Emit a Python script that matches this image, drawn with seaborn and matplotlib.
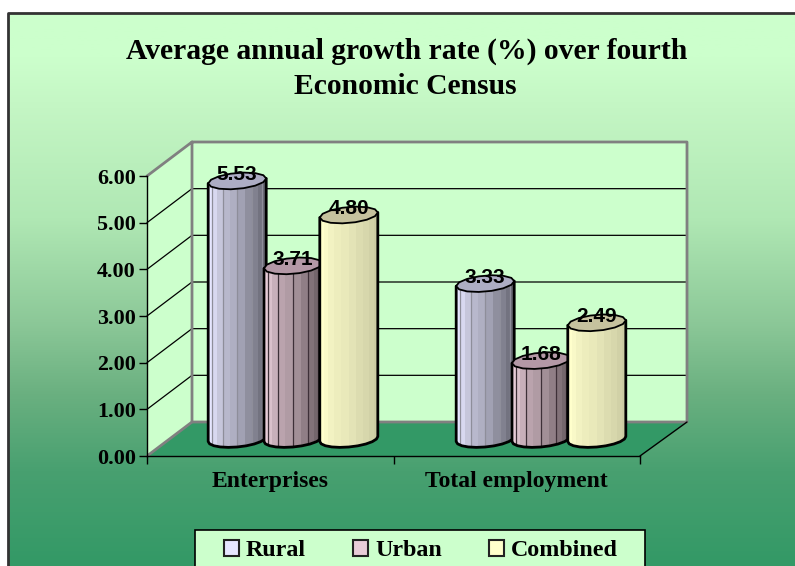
import numpy as np
import pandas as pd
import matplotlib
matplotlib.use("Agg")
import matplotlib.pyplot as plt
from matplotlib.colors import LinearSegmentedColormap, to_rgb
from matplotlib.patches import Patch, Polygon, Rectangle
import seaborn as sns

# values
categories = ["Enterprises", "Total employment"]
series_names = ["Rural", "Urban", "Combined"]
rural = [5.53, 3.33]
urban = [3.71, 1.68]
combined = [4.80, 2.49]
y_ticks = [0, 1, 2, 3, 4, 5, 6]

base_colors = {"Rural": "#E6E6FF", "Urban": "#E8CCD8", "Combined": "#FFFFCC"}
top_colors = {"Rural": "#ADADC4", "Urban": "#B498A6", "Combined": "#C6C29E"}
stripe_lines = {"Rural": "#8E8E9A", "Urban": "#3E3038", "Combined": None}
# light falloff across the cylinder facets, left to right
shades = [0.72, 1.0, 0.94, 0.86, 0.80, 0.76, 0.70, 0.62, 0.56, 0.50, 0.44, 0.40]
shade_keep = {"Rural": 1.0, "Urban": 1.0, "Combined": 0.36}

W, H = 795, 566
# chart box in image pixels
FX0, FX1, FY0, FY6 = 147, 640, 456, 176   # front plane
DX, DY = 45, 34                           # depth of the box
BAR_DX, BAR_DY = 22, 17                   # bars stand half way back
BAR_STRETCH = 3
PX_PER_UNIT = (FY0 - FY6) / 6


def px_box(x0, y0, x1, y1):
    return [x0 / W, 1 - y1 / H, (x1 - x0) / W, (y1 - y0) / H]


df = pd.DataFrame({
    "Category": categories * 3,
    "Series": [s for s in series_names for _ in categories],
    "Rate": rural + urban + combined,
})

sns.set_theme(style="ticks")
plt.rcParams["font.family"] = ["Liberation Serif", "DejaVu Serif"]
plt.rcParams["font.weight"] = "bold"
plt.rcParams["text.color"] = "black"
plt.rcParams["xtick.labelcolor"] = "black"
plt.rcParams["ytick.labelcolor"] = "black"

fig = plt.figure(figsize=(W / 100, H / 100), dpi=100, facecolor="white")

# --- background, walls and floor, in image pixels
bg = fig.add_axes([0, 0, 1, 1], zorder=0)
bg.set_xlim(0, W)
bg.set_ylim(H, 0)
bg.axis("off")
fade = LinearSegmentedColormap.from_list("fade", [
    (0, "#CCFFCC"), (0.08, "#CCFFCC"), (0.17, "#C4F6C4"), (0.37, "#B0E8B4"),
    (0.56, "#8CC898"), (0.69, "#6AB080"), (0.83, "#48A070"), (1, "#339966")])
bg.imshow(np.linspace(0, 1, 256)[:, None], cmap=fade, aspect="auto",
          extent=(8, W, H, 13), zorder=0)
bg.plot([8, 8, W], [H, 13, 13], color="#333333", lw=2, zorder=1)

bx0, bx1 = FX0 + DX, FX1 + DX + 2
by0, by6 = FY0 - DY, FY6 - DY
bg.add_patch(Polygon([(FX0, FY0), (bx0, by0), (bx0, by6), (FX0, FY6)], fc="#CCFFCC", ec="none", zorder=1))
bg.add_patch(Polygon([(bx0, by0), (bx1, by0), (bx1, by6), (bx0, by6)], fc="#CCFFCC", ec="none", zorder=1))
bg.add_patch(Polygon([(FX0, FY0), (bx0, by0), (bx1, by0), (FX1, FY0)], fc="#339966", ec="none", zorder=1))
for v in y_ticks[1:-1]:
    yy = FY0 - v * PX_PER_UNIT
    bg.plot([FX0, bx0, bx1], [yy, yy - DY, yy - DY], color="black", lw=0.9, zorder=2)
bg.plot([FX0, bx0, bx1, bx1, bx0, bx0], [FY6, by6, by6, by0, by0, by6], color="#808080", lw=2, zorder=3)
bg.plot([FX0, bx0], [FY0, by0], color="#808080", lw=2, zorder=3)
bg.plot([FX1, bx1], [FY0, by0], color="black", lw=1, zorder=3)

# --- front plane only carries the axes
front = fig.add_axes(px_box(FX0, FY6, FX1, FY0), zorder=1)
front.patch.set_alpha(0)
front.set_xlim(-0.5, 1.5)
front.set_ylim(0, 6)
front.set_yticks(y_ticks)
front.set_yticklabels([f"{v:.2f}" for v in y_ticks], fontsize=15.8)
front.set_xticks([0, 1])
front.set_xticklabels(categories, fontsize=17)
front.set_xticks([-0.5, 0.5, 1.5], minor=True)
front.tick_params(axis="x", which="major", length=0, pad=11, colors="black")
front.tick_params(axis="x", which="minor", length=6, width=1, color="black")
front.tick_params(axis="y", length=6, width=1, color="black", pad=2)
sns.despine(ax=front)
for side in ["left", "bottom"]:
    front.spines[side].set_color("black")
    front.spines[side].set_linewidth(1)

# --- bars, half way into the box
pad = 0.5
ax = fig.add_axes(px_box(FX0 + BAR_DX, FY6 - BAR_DY - pad * PX_PER_UNIT,
                         FX1 + BAR_DX + BAR_STRETCH, FY0 - BAR_DY + pad * PX_PER_UNIT), zorder=2)
ax.patch.set_alpha(0)
sns.barplot(data=df, x="Category", y="Rate", hue="Series", order=categories,
            hue_order=series_names, palette=base_colors, width=0.675, legend=False,
            ax=ax)
ax.axis("off")

uy = 1 / PX_PER_UNIT    # data units per pixel


def ellipse_points(cx, cy, half_w, start, stop, n):
    pts = []
    for t in np.linspace(start, stop, n):
        pts.append((cx + half_w * np.cos(t),
                    cy + uy * (8 * np.sin(t) + 2.5 * np.cos(t))))
    return pts


def draw_cylinder(rect, name, order):
    half_w = rect.get_width() * 1.04 / 2
    cx = rect.get_x() + rect.get_width() / 2
    value = rect.get_height()
    base = 0

    # outline of the body: front half of the foot, up to the top rim
    foot = ellipse_points(cx, base, half_w, np.pi, 2 * np.pi, 11)
    rim = ellipse_points(cx, value, half_w, 0, np.pi, 2)
    body = Polygon(foot + rim, closed=True, fc="none", ec="black", lw=2, zorder=order + 0.3,
                   joinstyle="round")
    ax.add_patch(body)

    # facets
    keep = shade_keep[name]
    rgb = np.array(to_rgb(base_colors[name]))
    angles = np.linspace(np.pi, 0, len(shades) + 1)
    edges = cx + half_w * np.cos(angles)
    cells = np.array([[rgb * (1 - (1 - s) * keep) for s in shades]])
    mesh = ax.pcolormesh(edges, [base - 0.4, value + 0.3], cells, zorder=order, shading="flat")
    mesh.set_clip_path(body)
    if stripe_lines[name]:
        lines = ax.vlines(edges[2:-1:2], base - 0.4, value + 0.3, color=stripe_lines[name],
                          lw=0.9, zorder=order + 0.1)
        lines.set_clip_path(body)

    # top cap
    cap = ellipse_points(cx, value, half_w, 0, 2 * np.pi, 15)
    ax.add_patch(Polygon(cap, closed=True, fc=top_colors[name], ec="black", lw=1.3,
                         zorder=order + 0.4))
    ax.annotate(f"{value:.2f}", (cx, value), xytext=(0, 4.5), textcoords="offset points",
                ha="center", va="center", fontsize=15, fontweight="bold",
                family=["Liberation Sans", "DejaVu Sans"], color="black", zorder=20)


for s, container in enumerate(ax.containers):
    for rect in container:
        rect.set_visible(False)
        draw_cylinder(rect, series_names[s], 3 + s)

ax.set_xlim(-0.5, 1.5)
ax.set_ylim(-pad, 6 + pad)

# --- title
bg.text(407, 51, "Average annual growth rate (%) over fourth", ha="center", va="center",
        fontsize=21.3, fontweight="bold", color="black", zorder=5)
bg.text(405, 87, "Economic Census", ha="center", va="center",
        fontsize=21.3, fontweight="bold", color="black", zorder=5)

# --- legend, its lower edge runs off the picture
bg.add_patch(Rectangle((195, 530), 450, 50, fc="#CCFFCC", ec="black", lw=1.2, zorder=5))
handles = [Patch(fc=base_colors[n], ec="#222222", lw=1.5, label=n) for n in series_names]
leg = bg.legend(handles=handles, ncol=3, loc="upper left", bbox_to_anchor=(224, 540),
                bbox_transform=bg.transData, fontsize=17.3, frameon=False, borderaxespad=0,
                handlelength=0.62, handleheight=0.62, handletextpad=0.3,
                columnspacing=1.95, borderpad=0, labelcolor="black")
leg.set_zorder(6)

fig.savefig("out.png", dpi=100)
